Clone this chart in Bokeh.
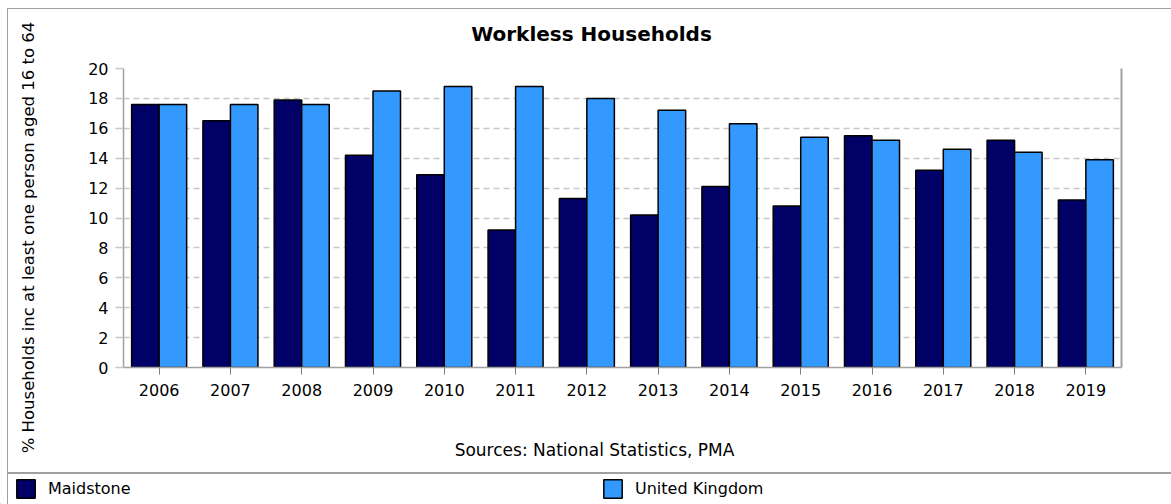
import math
from bokeh.plotting import figure
from bokeh.layouts import column, row
from bokeh.models import (ColumnDataSource, FactorRange, Range1d, Label, Legend, LegendItem,
                          LinearAxis, FixedTicker)
from bokeh.transform import dodge
from bokeh.embed import file_html
from bokeh.resources import INLINE

years = ["2006", "2007", "2008", "2009", "2010", "2011", "2012",
         "2013", "2014", "2015", "2016", "2017", "2018", "2019"]
maidstone = [17.6, 16.5, 17.9, 14.2, 12.9, 9.2, 11.3, 10.2, 12.1, 10.8, 15.5, 13.2, 15.2, 11.2]
united_kingdom = [17.6, 17.6, 17.6, 18.5, 18.8, 18.8, 18.0, 17.2, 16.3, 15.4, 15.2, 14.6, 14.4, 13.9]
y_ticks = [0, 2, 4, 6, 8, 10, 12, 14, 16, 18, 20]

title_text = "Workless Households"
y_label = "% Households inc at least one person aged 16 to 64"
source_text = "Sources: National Statistics, PMA"
series_names = ["Maidstone", "United Kingdom"]
series_colors = ["#000066", "#3399ff"]

FONT = "DejaVu Sans"


def text_panel(w, h):
    f = figure(width=w, height=h, output_backend="svg", toolbar_location=None, title=None,
               x_range=Range1d(0, 1), y_range=Range1d(0, 1), x_axis_type=None, y_axis_type=None,
               min_border=0, min_border_left=0, min_border_right=0,
               min_border_top=0, min_border_bottom=0)
    f.grid.visible = False
    f.outline_line_color = None
    f.background_fill_color = None
    f.border_fill_color = None
    return f


# ---- left strip with the rotated axis title (page x 0..45, y 0..472)
ylab_fig = text_panel(45, 472)
ylab_fig.add_layout(Label(x=28, y=472 - 237, x_units="screen", y_units="screen", text=y_label,
                          angle=math.pi / 2, text_font=FONT, text_font_size="16.5px",
                          text_align="center", text_baseline="middle", text_color="black"))

# ---- top strip with the chart title (its frame is aligned with the chart frame: page x 123)
FL = 123
top_fig = text_panel(1126, 50)
top_fig.add_layout(Label(x=591 - FL, y=50 - 33, x_units="screen", y_units="screen", text=title_text,
                         text_font=FONT, text_font_size="20px", text_font_style="bold",
                         text_align="center", text_baseline="middle", text_color="black"))

# ---- main chart (page x 45..1171, y 50..420); frame page x 123..1121, y 68..367
src = ColumnDataSource(dict(year=years, m=maidstone, uk=united_kingdom))
p = figure(width=1126, height=370, output_backend="svg", toolbar_location=None, title=None,
           x_range=FactorRange(*years, range_padding=0), y_range=Range1d(0, 20),
           min_border_left=78, min_border_right=50, min_border_top=18, min_border_bottom=53)
p.background_fill_color = "white"
p.border_fill_color = None
p.outline_line_color = None

r1 = p.vbar(x=dodge("year", -0.193, range=p.x_range), top="m", width=0.386, source=src,
            fill_color=series_colors[0], line_color="black", line_width=1.5)
r2 = p.vbar(x=dodge("year", 0.193, range=p.x_range), top="uk", width=0.386, source=src,
            fill_color=series_colors[1], line_color="black", line_width=1.5)

p.xgrid.grid_line_color = None
p.ygrid.grid_line_color = "#c8c8c8"
p.ygrid.grid_line_dash = "6 4"
p.ygrid.grid_line_width = 1.5
p.yaxis.ticker = FixedTicker(ticks=y_ticks)
p.ygrid.ticker = FixedTicker(ticks=y_ticks)

p.yaxis.axis_line_color = "#a0a0a0"
p.yaxis.axis_line_width = 1.5
p.yaxis.major_tick_line_color = "#c8c8c8"
p.yaxis.major_tick_line_width = 1.5
p.yaxis.major_tick_out = 8
p.yaxis.major_tick_in = 0
p.yaxis.minor_tick_line_color = None
p.yaxis.major_label_standoff = 7
p.yaxis.major_label_text_font = FONT
p.yaxis.major_label_text_font_size = "16px"
p.yaxis.major_label_text_color = "black"

p.xaxis.axis_line_color = "#a0a0a0"
p.xaxis.axis_line_width = 1.5
p.xaxis.major_tick_line_color = "#808080"
p.xaxis.major_tick_out = 7
p.xaxis.major_tick_in = 0
p.xaxis.minor_tick_line_color = None
p.xaxis.major_label_standoff = 9
p.xaxis.major_label_text_font = FONT
p.xaxis.major_label_text_font_size = "16px"
p.xaxis.major_label_text_color = "black"

right_axis = LinearAxis(ticker=FixedTicker(ticks=[]), axis_line_color="#a0a0a0", axis_line_width=2,
                        major_tick_line_color=None, minor_tick_line_color=None)
p.add_layout(right_axis, "right")

# ---- strip with the source note (frame aligned with the chart frame: page x 123)
src_fig = text_panel(1126, 52)
src_fig.add_layout(Label(x=594 - FL, y=472 - 449, x_units="screen", y_units="screen", text=source_text,
                         text_font=FONT, text_font_size="17px",
                         text_align="center", text_baseline="middle", text_color="black"))

# ---- legend strip (page x 0..1171, y 472..504); swatch renderers sit outside the visible range
leg_fig = text_panel(1171, 32)
g1 = leg_fig.vbar(x=[-5], top=[-5], width=0.5, fill_color=series_colors[0], line_color="black", line_width=1.5)
g2 = leg_fig.vbar(x=[-5], top=[-5], width=0.5, fill_color=series_colors[1], line_color="black", line_width=1.5)
legend = Legend(items=[LegendItem(label=series_names[0], renderers=[g1]),
                       LegendItem(label=series_names[1], renderers=[g2])],
                location=(14, 4), orientation="horizontal",
                glyph_width=23, glyph_height=23, label_standoff=11, label_width=553, spacing=0,
                padding=0, margin=0, border_line_color=None, background_fill_alpha=0,
                label_text_font=FONT, label_text_font_size="16px", label_text_color="black")
leg_fig.add_layout(legend)

layout = column(row(ylab_fig, column(top_fig, p, src_fig, spacing=0), spacing=0), leg_fig, spacing=0)
layout.styles = {"box-shadow": ("inset 7px 8px 0 0 #ffffff, inset 8px 9px 0 0 #a0a0a0, "
                                "inset 0 472px 0 0 #ffffff, inset 0 474px 0 0 #a0a0a0")}

open("out.html", "w").write(file_html(layout, INLINE))
